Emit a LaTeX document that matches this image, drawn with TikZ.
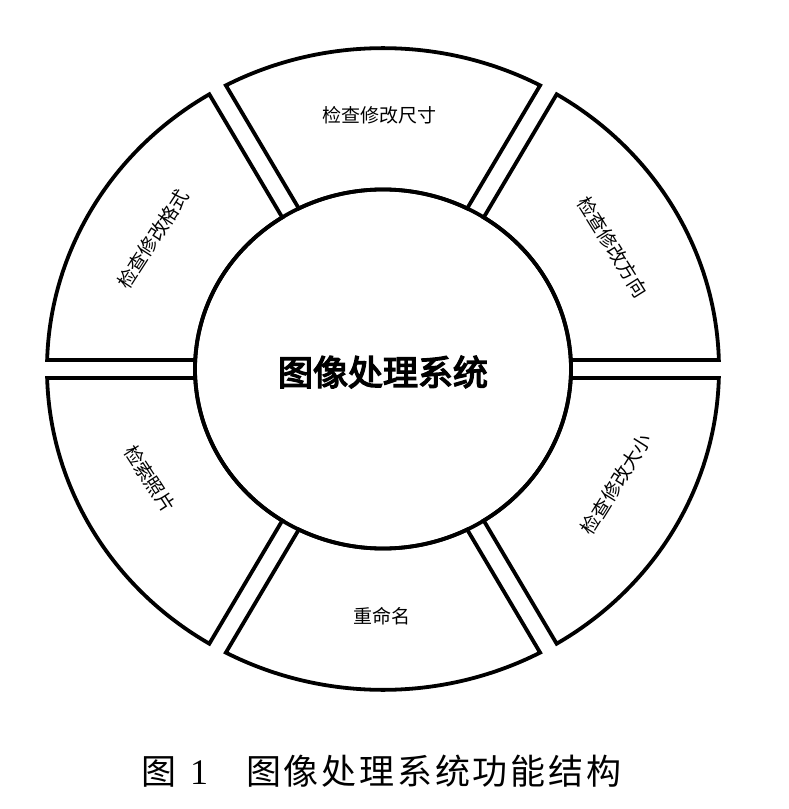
\documentclass[tikz,border=0pt]{standalone}
\usepackage{fontspec}
\setmainfont{Liberation Serif}
\newfontfamily\cjk{Noto Sans CJK SC}
\newfontfamily\cjkcap{Noto Sans CJK SC}[LetterSpace=8]
\newfontfamily\cjkb{Noto Sans CJK SC}[FakeBold=4]
\begin{document}
\begin{tikzpicture}[x=1pt,y=1pt,
  ring/.style={draw=black, line width=3.8pt, line join=miter},
  seglabel/.style={font=\cjk\fontsize{19}{19}\selectfont, inner sep=0pt}]
\useasboundingbox[fill=white] (-383,-440) rectangle (406,369);
\begin{scope}[yscale=0.955]
\def\R{336}\def\r{188}\def\ao{1.62}\def\ai{2.9}
\foreach \A/\B in {0/60.5, 60.5/119.5, 119.5/180, 180/240.5, 240.5/299.5, 299.5/360} {
  \draw[ring] ({\A+\ai}:\r) -- ({\A+\ao}:\R)
    arc[start angle={\A+\ao}, end angle={\B-\ao}, radius=\R]
    -- ({\B-\ai}:\r)
    arc[start angle={\B-\ai}, end angle={\A+\ai}, radius=\r] -- cycle;
}
\draw[ring] (0,0) circle[radius=\r];
\end{scope}
\node[font=\cjkb\fontsize{35}{35}\selectfont, inner sep=0pt] (core) at (0,-3) {图像处理系统};
\node[seglabel] (size) at (-3,254) {检查修改尺寸};
\node[seglabel, rotate=-58] (dir) at (230,122) {检查修改方向};
\node[seglabel, rotate=58] (big) at (233,-115) {检查修改大小};
\node[seglabel] (rename) at (-1,-247) {重命名};
\node[seglabel, rotate=-57] (search) at (-233,-110) {检索照片};
\node[seglabel, rotate=57] (fmt) at (-230,130) {检查修改格式};
\node[anchor=west, inner sep=0pt] (cap) at (-242,-402)
  {{\cjkcap\fontsize{35}{35}\selectfont 图}\hspace{14pt}{\fontsize{36}{36}\selectfont 1}\hspace{38pt}{\cjkcap\fontsize{35}{35}\selectfont 图像处理系统功能结构}};
\end{tikzpicture}
\end{document}
